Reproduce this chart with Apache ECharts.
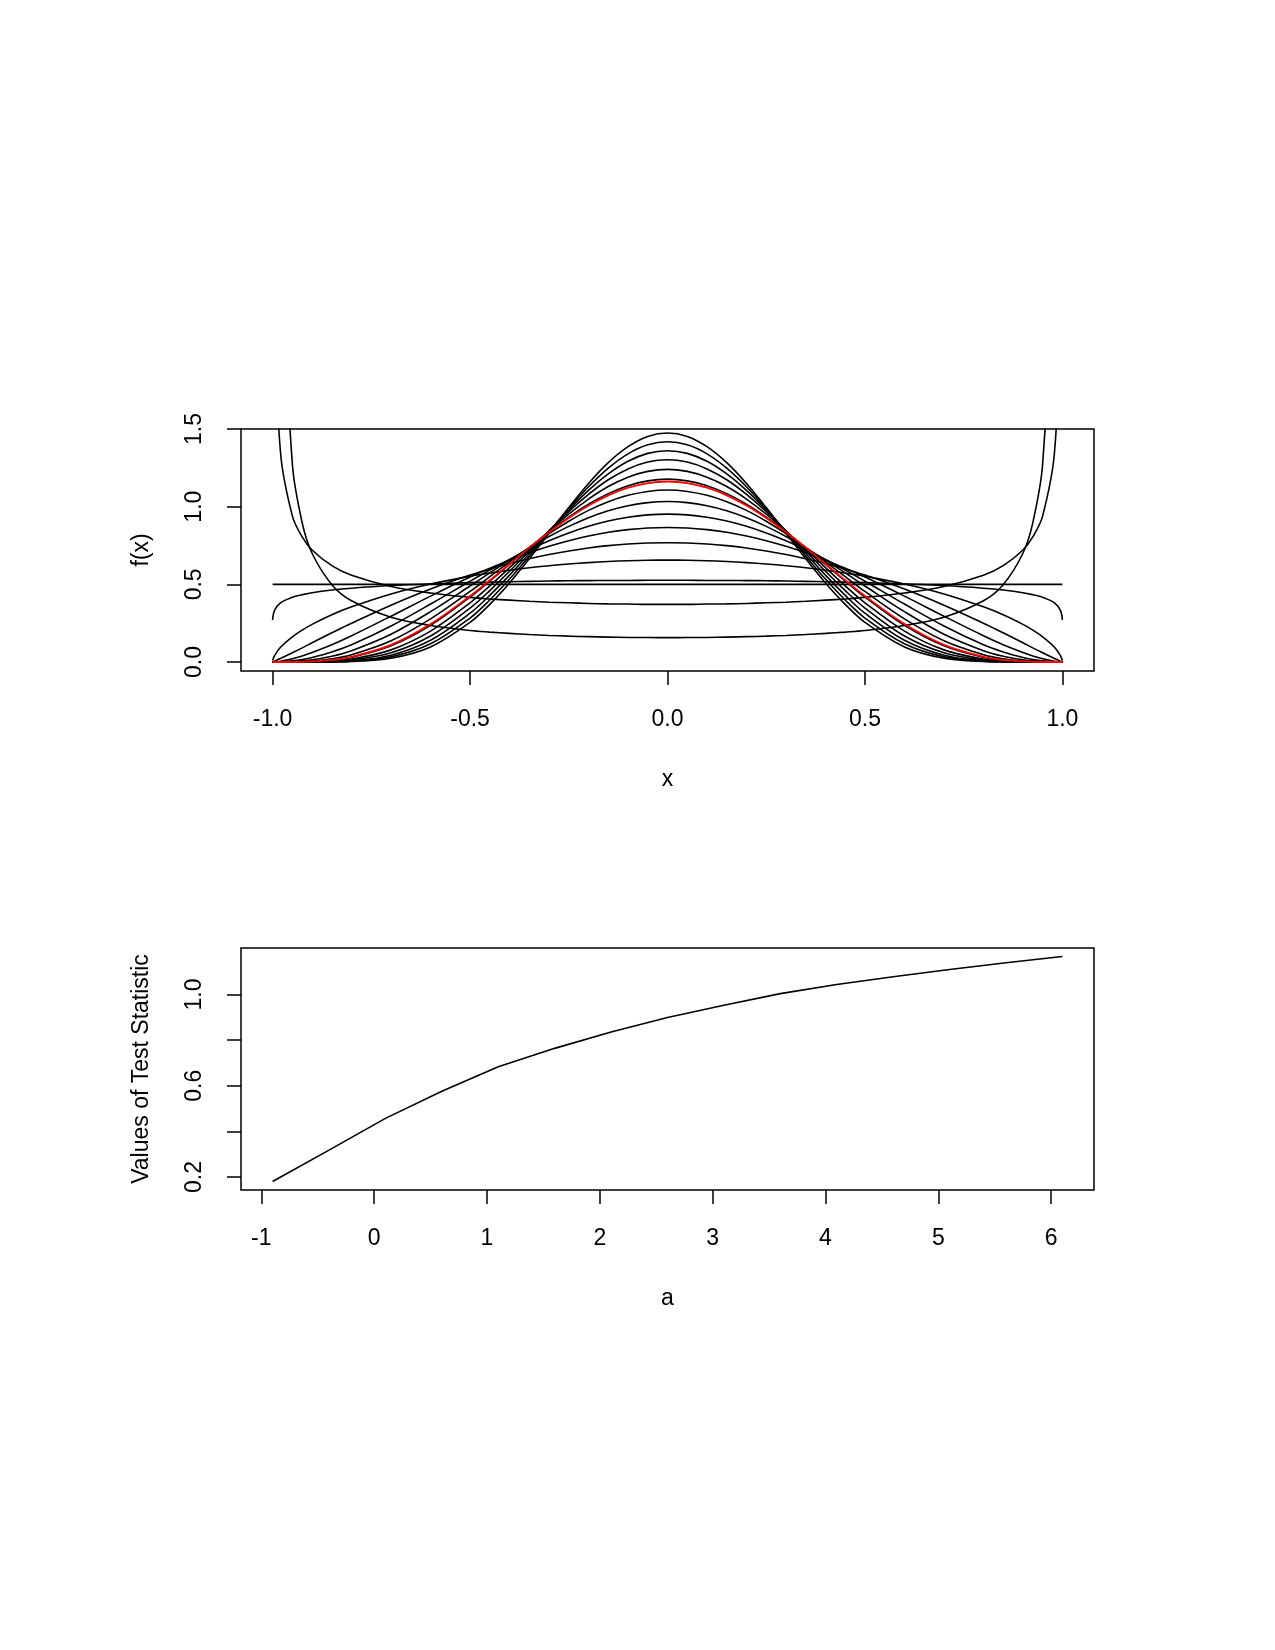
<!DOCTYPE html>
<html>
<head>
<meta charset="utf-8">
<script src="https://cdn.jsdelivr.net/npm/echarts@6/dist/echarts.min.js"></script>
<style>
  html, body { margin: 0; padding: 0; background: #fff; }
  #chart { width: 1275px; height: 1650px; }
</style>
</head>
<body>
<div id="chart"></div>
<script>
// x grid shared by every density curve (top panel)
const xs = [-1, -0.995, -0.98, -0.95, -0.925, -0.9, -0.85, -0.8, -0.7, -0.6, -0.5, -0.45, -0.4, -0.35, -0.3, -0.25, -0.2, -0.15, -0.1, -0.05, 0,
  0.05, 0.1, 0.15, 0.2, 0.25, 0.3, 0.35, 0.4, 0.45, 0.5, 0.6, 0.7, 0.8, 0.85, 0.9, 0.925, 0.95, 0.98, 0.995, 1];

// densities, one array per value of a
const fNeg09 = [40, 9.92, 2.87, 1.276, 0.896, 0.700, 0.498, 0.394, 0.288, 0.235, 0.203, 0.1925, 0.184, 0.1766, 0.171, 0.1664, 0.163, 0.1602, 0.158, 0.1574, 0.157, 0.1574, 0.158, 0.1602, 0.163, 0.1664, 0.171, 0.1766, 0.184, 0.1925, 0.203, 0.235, 0.288, 0.394, 0.498, 0.700, 0.896, 1.276, 2.87, 9.92, 40];
const fNeg04 = [8, 2.343, 1.350, 0.941, 0.805, 0.721, 0.620, 0.558, 0.486, 0.444, 0.416, 0.406, 0.398, 0.391, 0.385, 0.381, 0.377, 0.374, 0.373, 0.371, 0.371, 0.371, 0.373, 0.374, 0.377, 0.381, 0.385, 0.391, 0.398, 0.406, 0.416, 0.444, 0.486, 0.558, 0.620, 0.721, 0.805, 0.941, 1.350, 2.343, 8];
const f01 = [0.27, 0.332, 0.381, 0.417, 0.433, 0.446, 0.463, 0.475, 0.492, 0.503, 0.511, 0.514, 0.517, 0.519, 0.521, 0.523, 0.524, 0.525, 0.525, 0.526, 0.526, 0.526, 0.525, 0.525, 0.524, 0.523, 0.521, 0.519, 0.517, 0.514, 0.511, 0.503, 0.492, 0.475, 0.463, 0.446, 0.433, 0.417, 0.381, 0.332, 0.27];
const f06 = [0.01, 0.041, 0.095, 0.162, 0.205, 0.242, 0.304, 0.355, 0.438, 0.502, 0.552, 0.573, 0.591, 0.607, 0.620, 0.631, 0.640, 0.647, 0.652, 0.655, 0.656, 0.655, 0.652, 0.647, 0.640, 0.631, 0.620, 0.607, 0.591, 0.573, 0.552, 0.502, 0.438, 0.355, 0.304, 0.242, 0.205, 0.162, 0.095, 0.041, 0.01];
const f11 = [0, 0.005, 0.022, 0.059, 0.091, 0.124, 0.188, 0.250, 0.366, 0.470, 0.560, 0.599, 0.634, 0.665, 0.692, 0.715, 0.734, 0.749, 0.760, 0.766, 0.768, 0.766, 0.760, 0.749, 0.734, 0.715, 0.692, 0.665, 0.634, 0.599, 0.560, 0.470, 0.366, 0.250, 0.188, 0.124, 0.091, 0.059, 0.022, 0.005, 0];
const f16 = [0, 0.001, 0.005, 0.021, 0.039, 0.061, 0.111, 0.169, 0.295, 0.424, 0.547, 0.603, 0.655, 0.703, 0.745, 0.781, 0.811, 0.835, 0.852, 0.863, 0.866, 0.863, 0.852, 0.835, 0.811, 0.781, 0.745, 0.703, 0.655, 0.603, 0.547, 0.424, 0.295, 0.169, 0.111, 0.061, 0.039, 0.021, 0.005, 0.001, 0];
const f21 = [0, 0, 0.001, 0.007, 0.016, 0.029, 0.065, 0.111, 0.232, 0.373, 0.520, 0.592, 0.660, 0.724, 0.781, 0.831, 0.874, 0.908, 0.932, 0.947, 0.952, 0.947, 0.932, 0.908, 0.874, 0.831, 0.781, 0.724, 0.660, 0.592, 0.520, 0.373, 0.232, 0.111, 0.065, 0.029, 0.016, 0.007, 0.001, 0, 0];
const f26 = [0, 0, 0, 0.002, 0.007, 0.014, 0.037, 0.073, 0.179, 0.324, 0.489, 0.574, 0.656, 0.735, 0.808, 0.873, 0.929, 0.974, 1.006, 1.026, 1.033, 1.026, 1.006, 0.974, 0.929, 0.873, 0.808, 0.735, 0.656, 0.574, 0.489, 0.324, 0.179, 0.073, 0.037, 0.014, 0.007, 0.002, 0, 0, 0];
const f31 = [0, 0, 0, 0.001, 0.003, 0.006, 0.021, 0.047, 0.137, 0.278, 0.454, 0.549, 0.645, 0.738, 0.826, 0.906, 0.976, 1.032, 1.073, 1.098, 1.107, 1.098, 1.073, 1.032, 0.976, 0.906, 0.826, 0.738, 0.645, 0.549, 0.454, 0.278, 0.137, 0.047, 0.021, 0.006, 0.003, 0.001, 0, 0, 0];
const f36 = [0, 0, 0, 0, 0.001, 0.003, 0.012, 0.030, 0.104, 0.236, 0.418, 0.521, 0.628, 0.735, 0.838, 0.933, 1.016, 1.084, 1.135, 1.166, 1.177, 1.166, 1.135, 1.084, 1.016, 0.933, 0.838, 0.735, 0.628, 0.521, 0.418, 0.236, 0.104, 0.030, 0.012, 0.003, 0.001, 0, 0, 0, 0];
const f41 = [0, 0, 0, 0, 0, 0.001, 0.007, 0.019, 0.078, 0.199, 0.381, 0.490, 0.607, 0.726, 0.842, 0.952, 1.049, 1.130, 1.190, 1.227, 1.240, 1.227, 1.190, 1.130, 1.049, 0.952, 0.842, 0.726, 0.607, 0.490, 0.381, 0.199, 0.078, 0.019, 0.007, 0.001, 0, 0, 0, 0, 0];
const f46 = [0, 0, 0, 0, 0, 0.001, 0.004, 0.012, 0.059, 0.167, 0.347, 0.460, 0.584, 0.714, 0.844, 0.968, 1.079, 1.173, 1.243, 1.287, 1.302, 1.287, 1.243, 1.173, 1.079, 0.968, 0.844, 0.714, 0.584, 0.460, 0.347, 0.167, 0.059, 0.012, 0.004, 0.001, 0, 0, 0, 0, 0];
const f51 = [0, 0, 0, 0, 0, 0, 0.002, 0.007, 0.044, 0.140, 0.314, 0.429, 0.559, 0.698, 0.841, 0.979, 1.105, 1.211, 1.292, 1.343, 1.360, 1.343, 1.292, 1.211, 1.105, 0.979, 0.841, 0.698, 0.559, 0.429, 0.314, 0.140, 0.044, 0.007, 0.002, 0, 0, 0, 0, 0, 0];
const f56 = [0, 0, 0, 0, 0, 0, 0.001, 0.005, 0.033, 0.117, 0.283, 0.399, 0.534, 0.682, 0.836, 0.988, 1.128, 1.248, 1.340, 1.398, 1.418, 1.398, 1.340, 1.248, 1.128, 0.988, 0.836, 0.682, 0.534, 0.399, 0.283, 0.117, 0.033, 0.005, 0.001, 0, 0, 0, 0, 0, 0];
const f61 = [0, 0, 0, 0, 0, 0, 0.001, 0.003, 0.024, 0.097, 0.255, 0.371, 0.509, 0.664, 0.829, 0.994, 1.149, 1.283, 1.386, 1.452, 1.474, 1.452, 1.386, 1.283, 1.149, 0.994, 0.829, 0.664, 0.509, 0.371, 0.255, 0.097, 0.024, 0.003, 0.001, 0, 0, 0, 0, 0, 0];
// the red one
const fRed = [0, 0, 0, 0, 0.001, 0.004, 0.013, 0.033, 0.110, 0.244, 0.425, 0.526, 0.631, 0.736, 0.835, 0.927, 1.007, 1.073, 1.122, 1.152, 1.162, 1.152, 1.122, 1.073, 1.007, 0.927, 0.835, 0.736, 0.631, 0.526, 0.425, 0.244, 0.110, 0.033, 0.013, 0.004, 0.001, 0, 0, 0, 0];
// uniform density
const flatX = [-1, 1];
const flatY = [0.5, 0.5];

// bottom panel
const aValues = [-0.9, -0.4, 0.1, 0.6, 1.1, 1.6, 2.1, 2.6, 3.1, 3.6, 4.1, 4.6, 5.1, 5.6, 6.1];
const statValues = [0.180, 0.318, 0.457, 0.576, 0.683, 0.764, 0.836, 0.899, 0.953, 1.004, 1.044, 1.078, 1.110, 1.139, 1.167];

const topTicks = [-1, -0.5, 0, 0.5, 1];
const topYTicks = [0, 0.5, 1, 1.5];
const botXTicks = [-1, 0, 1, 2, 3, 4, 5, 6];
const botYTicks = [0.2, 0.4, 0.6, 0.8, 1.0];
const botYLabels = [0.2, 0.6, 1.0];

const blackCurves = [fNeg09, fNeg04, f01, f06, f11, f16, f21, f26, f31, f36, f41, f46, f51, f56, f61];

const FONT = "'Liberation Sans', Arial, Helvetica, sans-serif";
const pairs = (x, y) => x.map((v, i) => [v, y[i]]);

const chart = echarts.init(document.getElementById("chart"));

const xAxisStyle = (gridIndex, min, max, ticks, fmt, name) => ({
  type: "value",
  gridIndex: gridIndex,
  min: min,
  max: max,
  name: name,
  nameLocation: "middle",
  nameGap: 97,
  nameTextStyle: { fontFamily: FONT, fontSize: 23, color: "#000" },
  axisLine: { show: false, onZero: false },
  axisTick: { show: true, inside: false, length: 14, customValues: ticks, lineStyle: { color: "#000", width: 1.5 } },
  axisLabel: { customValues: ticks, margin: 37, fontFamily: FONT, fontSize: 23, color: "#000", formatter: fmt },
  splitLine: { show: false },
});

const yAxisStyle = (gridIndex, min, max, ticks, labels, name) => ({
  type: "value",
  gridIndex: gridIndex,
  min: min,
  max: max,
  name: name,
  nameLocation: "middle",
  nameRotate: 90,
  nameGap: 88,
  nameTextStyle: { fontFamily: FONT, fontSize: 23, color: "#000" },
  axisLine: { show: false, onZero: false },
  axisTick: { show: true, inside: false, length: 14, customValues: ticks, lineStyle: { color: "#000", width: 1.5 } },
  axisLabel: { customValues: labels, rotate: 90, margin: 35, fontFamily: FONT, fontSize: 23, color: "#000",
    formatter: (v) => v.toFixed(1) },
  splitLine: { show: false },
});

const series = blackCurves.map((ys) => ({
  type: "line",
  xAxisIndex: 0,
  yAxisIndex: 0,
  data: pairs(xs, ys),
  showSymbol: false,
  smooth: 0.35,
  clip: true,
  lineStyle: { color: "#000", width: 1.6 },
}));

series.push({
  type: "line",
  xAxisIndex: 0,
  yAxisIndex: 0,
  data: pairs(flatX, flatY),
  showSymbol: false,
  lineStyle: { color: "#000", width: 1.6 },
});

series.push({
  type: "line",
  xAxisIndex: 0,
  yAxisIndex: 0,
  data: pairs(xs, fRed),
  showSymbol: false,
  smooth: 0.35,
  lineStyle: { color: "#ff0000", width: 1.8 },
});

series.push({
  type: "line",
  xAxisIndex: 1,
  yAxisIndex: 1,
  data: pairs(aValues, statValues),
  showSymbol: false,
  lineStyle: { color: "#000", width: 1.6 },
});

const option = {
  animation: false,
  backgroundColor: "#fff",
  grid: [
    { left: 241, top: 429, width: 853, height: 242, show: true, borderColor: "#000", borderWidth: 1.5, backgroundColor: "transparent" },
    { left: 241, top: 948, width: 853, height: 242, show: true, borderColor: "#000", borderWidth: 1.5, backgroundColor: "transparent" },
  ],
  xAxis: [
    xAxisStyle(0, -1.08, 1.08, topTicks, (v) => v.toFixed(1), "x"),
    xAxisStyle(1, -1.18, 6.38, botXTicks, (v) => String(v), "a"),
  ],
  yAxis: [
    yAxisStyle(0, -0.058, 1.5, topYTicks, topYTicks, "f(x)"),
    yAxisStyle(1, 0.143, 1.204, botYTicks, botYLabels, "Values of Test Statistic"),
  ],
  series: series,
};

chart.setOption(option);
</script>
</body>
</html>
